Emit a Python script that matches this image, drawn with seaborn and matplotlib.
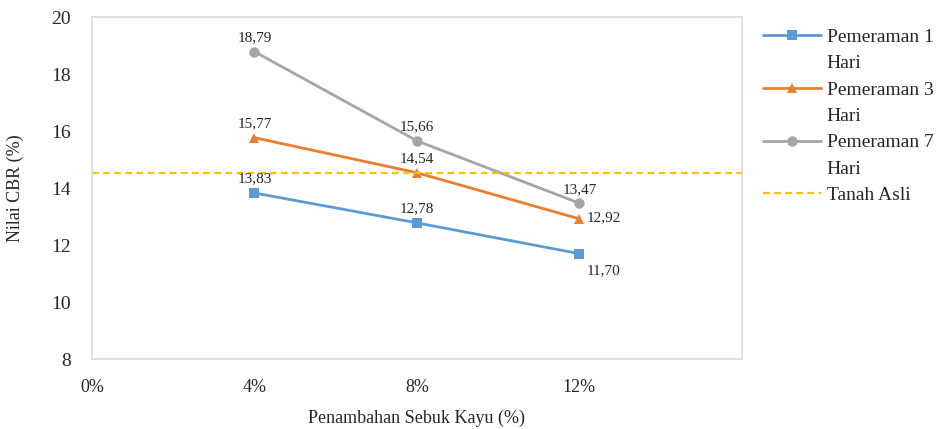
import matplotlib
matplotlib.use('Agg')
import matplotlib.pyplot as plt
from matplotlib.lines import Line2D
import numpy as np
import pandas as pd
import seaborn as sns

# data
kadar = [4, 8, 12]
hari_1 = [13.83, 12.78, 11.70]
hari_3 = [15.77, 14.54, 12.92]
hari_7 = [18.79, 15.66, 13.47]
tanah_asli = 14.54
series_names = ['Pemeraman 1', 'Pemeraman 3', 'Pemeraman 7']
x_ticks = [0, 4, 8, 12]
x_tick_labels = ['0%', '4%', '8%', '12%']
y_ticks = [8, 10, 12, 14, 16, 18, 20]

colors = ['#5B9BD5', '#ED7D31', '#A5A5A5']
markers = ['s', '^', 'o']
txt = '#262626'


def main():
    sns.set_style('white')
    plt.rcParams['font.family'] = ['Liberation Serif', 'DejaVu Serif']

    df = pd.DataFrame({
        'kadar': kadar * 3,
        'cbr': hari_1 + hari_3 + hari_7,
        'seri': np.repeat(series_names, len(kadar)),
    })

    fig = plt.figure(figsize=(9.53, 4.29), dpi=100)
    ax = fig.add_axes([0.0965, 0.163, 0.682, 0.797])

    sns.lineplot(data=df, x='kadar', y='cbr', hue='seri', style='seri',
                 palette=colors, markers=markers, dashes=False,
                 linewidth=2, markersize=7.5, markeredgewidth=0, ax=ax)
    ax.axhline(tanah_asli, color='#FFC000', linestyle=(0, (3, 2)), linewidth=1.6,
               label='Tanah Asli')

    # data labels
    offsets = {
        0: [(0, 10, 'center'), (0, 10, 'center'), (5, -12, 'left')],
        1: [(0, 10, 'center'), (0, 10, 'center'), (5, 1, 'left')],
        2: [(0, 10, 'center'), (0, 10, 'center'), (0, 10, 'center')],
    }
    for i, vals in enumerate([hari_1, hari_3, hari_7]):
        for j, (x, v) in enumerate(zip(kadar, vals)):
            dx, dy, ha = offsets[i][j]
            ax.annotate(f'{v:.2f}'.replace('.', ','), (x, v), xytext=(dx, dy),
                        textcoords='offset points', ha=ha, va='center',
                        fontsize=11, color=txt)

    ax.set_xlim(0, 16)
    ax.set_ylim(8, 20)
    ax.set_xticks(x_ticks)
    ax.set_xticklabels(x_tick_labels)
    ax.set_yticks(y_ticks)
    ax.tick_params(axis='x', length=0, pad=14, labelsize=13, colors=txt)
    ax.tick_params(axis='y', length=0, pad=15, labelsize=14, colors=txt)
    for sp in ax.spines.values():
        sp.set_color('#D9D9D9')
        sp.set_linewidth(1.2)

    ax.set_xlabel('Penambahan Sebuk Kayu (%)', fontsize=13, color=txt, labelpad=10)
    ax.set_ylabel('Nilai CBR (%)', fontsize=13, color=txt, labelpad=20)

    # legend: series names wrap onto a second line ("Hari"), handle on first line
    handles, labels = ax.get_legend_handles_labels()
    blank = Line2D([], [], linestyle='none')
    new_h, new_l = [], []
    for h, l in zip(handles, labels):
        new_h.append(h)
        new_l.append(l)
        if l.startswith('Pemeraman'):
            new_h.append(blank)
            new_l.append('Hari')
    leg = ax.legend(new_h, new_l, loc='upper left', bbox_to_anchor=(1.02, 0.99),
                    frameon=False, fontsize=14, handlelength=3.0, handletextpad=0.3,
                    labelspacing=0.45, borderaxespad=0)
    for t in leg.get_texts():
        t.set_color(txt)

    fig.savefig('out.png', dpi=100)
    plt.close(fig)


if __name__ == '__main__':
    main()
